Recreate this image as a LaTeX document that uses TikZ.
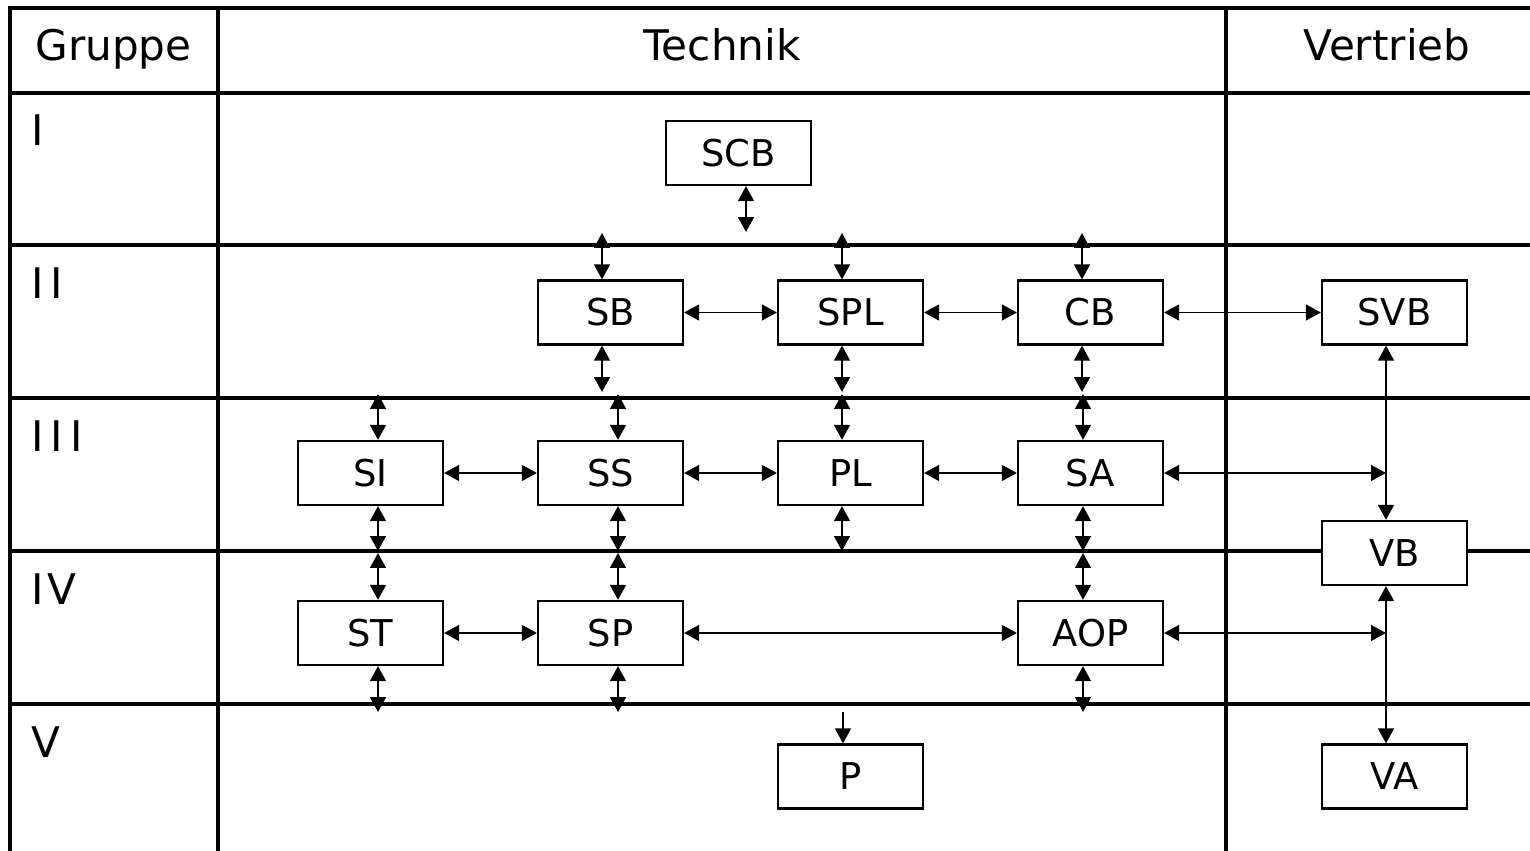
\documentclass[tikz,border=0pt]{standalone}
\usepackage{fontspec}
\setmainfont{DejaVu Sans}
\usetikzlibrary{arrows.meta}
\begin{document}
\begin{tikzpicture}[x=0.02cm,y=-0.02cm,
	rule/.style={line width=2pt},
	box/.style={draw,line width=1.3pt,fill=white,minimum width=2.9cm,minimum height=1.28cm,inner sep=0pt,font=\fontsize{21}{25}\selectfont},
	head/.style={anchor=base,inner sep=0pt,font=\fontsize{24}{28}\selectfont},
	grp/.style={anchor=base west,inner sep=0pt,font=\fontsize{24}{28}\selectfont},
	link/.style={line width=1.1pt,{Triangle[length=8.5pt,width=9pt]}-{Triangle[length=8.5pt,width=9pt]}},
	one/.style={line width=1.1pt,-{Triangle[length=8.5pt,width=9pt]}}]
	\useasboundingbox (0,0) rectangle (1530,851);
	\draw [rule] (10,851) -- (10,8) -- (1530,8);
	\foreach \y in {93,245,398,551,704}
	  \draw [rule] (10,\y) -- (1530,\y);
	\foreach \x in {218,1226}
	  \draw [rule] (\x,8) -- (\x,851);
	\node [head] (gruppe) at (113.5,61) {Gruppe};
	\node [head] (technik) at (722,61) {Technik};
	\node [head] (vertrieb) at (1387,61) {Vertrieb};
	\foreach \t/\y [count=\i] in {I/146,I\kern4pt I/298,I\kern4pt I\kern4pt I/451,I\kern2pt V/604,V/757}
	  \node [grp] (g\i) at (31,\y) {\t};
	\node [box] (scb) at (738.5,153) {SCB};
	\node [box] (sb) at (610.5,312.5) {SB};
	\node [box] (spl) at (850.5,312.5) {SPL};
	\node [box] (cb) at (1090.5,312.5) {CB};
	\node [box] (svb) at (1394.5,312.5) {SVB};
	\node [box] (si) at (370.5,473) {SI};
	\node [box] (ss) at (610.5,473) {SS};
	\node [box] (pl) at (850.5,473) {PL};
	\node [box] (sa) at (1090.5,473) {SA};
	\node [box] (vb) at (1394.5,553) {VB};
	\node [box] (st) at (370.5,633) {ST};
	\node [box] (sp) at (610.5,633) {SP};
	\node [box] (aop) at (1090.5,633) {AOP};
	\node [box] (p) at (850.5,776.5) {P};
	\node [box] (va) at (1394.5,776.5) {VA};
	\coordinate (scbd) at (746,232);
	\coordinate (sbu) at (602,233);
	\coordinate (splu) at (842,233);
	\coordinate (cbu) at (1082,233);
	\coordinate (sbd) at (602,392);
	\coordinate (spld) at (842,392);
	\coordinate (cbd) at (1082,392);
	\coordinate (siu) at (378,394);
	\coordinate (ssu) at (618,394);
	\coordinate (plu) at (842,394);
	\coordinate (sau) at (1083,394);
	\coordinate (sid) at (378,551);
	\coordinate (ssd) at (618,551);
	\coordinate (pld) at (842,551);
	\coordinate (sad) at (1083,551);
	\coordinate (stu) at (378,553);
	\coordinate (spu) at (618,553);
	\coordinate (aopu) at (1083,553);
	\coordinate (std) at (378,712);
	\coordinate (spd) at (618,712);
	\coordinate (aopd) at (1083,712);
	\coordinate (pu) at (843,712);
	\coordinate (vx) at (1386,473);
	\coordinate (vy) at (1386,633);
	\draw [link] (scbd |- scb.south) -- (scbd);
	\foreach \n in {sb,spl,cb}
	  \draw [link] (\n u) -- (\n u |- \n.north);
	\foreach \n in {sb,spl,cb,si,ss,pl,sa,st,sp,aop}
	  \draw [link] (\n d |- \n.south) -- (\n d);
	\foreach \n in {si,ss,pl,sa,st,sp,aop}
	  \draw [link] (\n u) -- (\n u |- \n.north);
	\draw [one] (pu) -- (pu |- p.north);
	\draw [link] (sb) -- (spl);
	\draw [link] (spl) -- (cb);
	\draw [link] (cb) -- (svb);
	\draw [link] (si) -- (ss);
	\draw [link] (ss) -- (pl);
	\draw [link] (pl) -- (sa);
	\draw [link] (sa) -- (vx);
	\draw [link] (st) -- (sp);
	\draw [link] (sp) -- (aop);
	\draw [link] (aop) -- (vy);
	\draw [link] (vx |- svb.south) -- (vx |- vb.north);
	\draw [link] (vx |- vb.south) -- (vx |- va.north);
\end{tikzpicture}
\end{document}
